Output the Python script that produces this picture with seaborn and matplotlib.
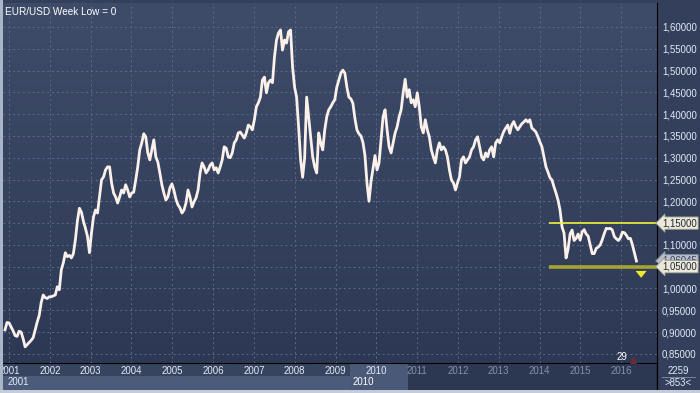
import numpy as np
import pandas as pd
import seaborn as sns
import matplotlib.pyplot as plt
import matplotlib.transforms as mtransforms
from matplotlib.colors import LinearSegmentedColormap
from matplotlib.patches import Rectangle

plt.rcParams['font.family'] = ['Liberation Sans', 'DejaVu Sans']

start_date = "2000-11-25"
prices = [
    0.905, 0.922, 0.921, 0.912, 0.903, 0.892, 0.890, 0.902, 0.900, 0.885,
    0.866, 0.871, 0.876, 0.881, 0.887, 0.905, 0.923, 0.938, 0.968, 0.985,
    0.979, 0.977, 0.981, 0.981, 0.983, 0.985, 1.004, 0.997, 1.043, 1.059,
    1.082, 1.073, 1.076, 1.070, 1.080, 1.112, 1.155, 1.184, 1.175, 1.154,
    1.138, 1.120, 1.082, 1.127, 1.164, 1.180, 1.173, 1.210, 1.249, 1.256,
    1.272, 1.279, 1.279, 1.242, 1.219, 1.210, 1.196, 1.210, 1.226, 1.219,
    1.238, 1.226, 1.210, 1.219, 1.221, 1.249, 1.279, 1.318, 1.334, 1.355,
    1.348, 1.311, 1.295, 1.318, 1.341, 1.302, 1.290, 1.265, 1.238, 1.219,
    1.203, 1.210, 1.231, 1.240, 1.225, 1.205, 1.192, 1.185, 1.173, 1.180,
    1.196, 1.226, 1.210, 1.187, 1.199, 1.208, 1.226, 1.265, 1.288, 1.279,
    1.265, 1.272, 1.283, 1.288, 1.272, 1.277, 1.265, 1.279, 1.295, 1.325,
    1.322, 1.302, 1.300, 1.311, 1.334, 1.341, 1.357, 1.359, 1.352, 1.345,
    1.357, 1.375, 1.371, 1.364, 1.387, 1.417, 1.426, 1.439, 1.478, 1.485,
    1.449, 1.472, 1.478, 1.472, 1.531, 1.570, 1.586, 1.593, 1.547, 1.570,
    1.563, 1.589, 1.593, 1.508, 1.462, 1.439, 1.371, 1.295, 1.255, 1.300,
    1.439, 1.394, 1.348, 1.302, 1.279, 1.265, 1.357, 1.334, 1.318, 1.364,
    1.394, 1.410, 1.417, 1.426, 1.433, 1.462, 1.478, 1.494, 1.501, 1.494,
    1.462, 1.439, 1.435, 1.425, 1.390, 1.364, 1.355, 1.350, 1.335, 1.305,
    1.242, 1.200, 1.245, 1.275, 1.305, 1.272, 1.288, 1.341, 1.394, 1.410,
    1.364, 1.325, 1.311, 1.334, 1.357, 1.371, 1.394, 1.410, 1.449, 1.480,
    1.439, 1.456, 1.426, 1.433, 1.417, 1.449, 1.417, 1.371, 1.357, 1.387,
    1.364, 1.348, 1.318, 1.302, 1.288, 1.318, 1.334, 1.318, 1.325, 1.318,
    1.302, 1.272, 1.249, 1.242, 1.226, 1.242, 1.256, 1.295, 1.302, 1.288,
    1.295, 1.302, 1.318, 1.325, 1.341, 1.348, 1.325, 1.302, 1.295, 1.311,
    1.302, 1.318, 1.325, 1.302, 1.334, 1.341, 1.334, 1.348, 1.360, 1.368,
    1.375, 1.356, 1.375, 1.383, 1.371, 1.364, 1.371, 1.378, 1.382, 1.387,
    1.382, 1.387, 1.368, 1.364, 1.359, 1.348, 1.336, 1.325, 1.302, 1.279,
    1.267, 1.254, 1.249, 1.233, 1.219, 1.203, 1.180, 1.141, 1.127, 1.070,
    1.090, 1.125, 1.134, 1.110, 1.115, 1.125, 1.111, 1.130, 1.135, 1.125,
    1.120, 1.100, 1.080, 1.080, 1.092, 1.095, 1.100, 1.112, 1.126, 1.138,
    1.137, 1.138, 1.134, 1.119, 1.114, 1.110, 1.116, 1.129, 1.128, 1.122,
    1.114, 1.115, 1.100, 1.081, 1.063,
]
dates = pd.date_range(start_date, periods=len(prices), freq="18D")

years = list(range(2001, 2017))
y_ticks = [0.85, 0.90, 0.95, 1.00, 1.05, 1.10, 1.15, 1.20, 1.25, 1.30,
           1.35, 1.40, 1.45, 1.50, 1.55, 1.60]

resistance = 1.15
support = 1.05
last_price = 1.06045
levels_from = "2014-03-27"
arrow_date = "2016-06-28"

# --- colours ---
BG_TOP = "#3f4c69"
BG_BOT = "#2d3954"
PANEL = "#34405b"
GRID = "#5b6a89"
TEXT = "#e2eaf6"
DIM = "#8592a8"
PRICE = "#fbf1ea"
FS = 6.9

fig = plt.figure(figsize=(7, 3.93), dpi=100)
fig.patch.set_facecolor(PANEL)

W, H = 700, 393
ax = fig.add_axes([3 / W, 30 / H, 654 / W, 360 / H])

# gradient background of the plot area
grad = np.linspace(0, 1, 256).reshape(-1, 1)
cmap = LinearSegmentedColormap.from_list("bg", [BG_TOP, BG_BOT])
ax.imshow(grad, cmap=cmap, extent=[0, 1, 0, 1], transform=ax.transAxes,
          aspect="auto", zorder=0)

sns.lineplot(x=dates, y=prices, ax=ax, color=PRICE, linewidth=2.0, zorder=3)

xmin, xmax = pd.Timestamp("2000-11-07"), pd.Timestamp("2016-11-17")
ax.set_xlim(xmin, xmax)
ax.set_ylim(0.829, 1.655)

# grid
year_dates = [pd.Timestamp(f"{y}-01-01") for y in years]
for d in year_dates:
    ax.axvline(d, color=GRID, lw=0.7, ls=(0, (2, 3)), zorder=1)
for v in y_ticks:
    ax.axhline(v, color=GRID, lw=0.7, ls=(0, (2, 3)), zorder=1)

# support / resistance
ax.hlines(resistance, pd.Timestamp(levels_from), xmax, color="#f4f03a", lw=1.2, zorder=4)
ax.hlines(support, pd.Timestamp(levels_from), xmax, color="#a6a431", lw=2.6, zorder=4)
ax.annotate("", xy=(pd.Timestamp(arrow_date), 1.018), xytext=(pd.Timestamp(arrow_date), 1.044),
            arrowprops=dict(arrowstyle="simple,head_width=0.8,head_length=0.5,tail_width=0.3",
                            color="#f2e82a", lw=0), zorder=5)

# axes styling
for s in ax.spines.values():
    s.set_visible(False)
ax.spines["right"].set_visible(True)
ax.spines["right"].set_color("black")
ax.spines["bottom"].set_visible(True)
ax.spines["bottom"].set_color("black")
ax.set_xlabel("")
ax.set_ylabel("")

ax.yaxis.tick_right()
ax.set_yticks(y_ticks)
ax.set_yticklabels([f"{v:.5f}".replace(".", ",") for v in y_ticks])
ax.tick_params(axis="y", length=0, pad=3.5, labelsize=FS, labelcolor=TEXT)

ax.set_xticks(year_dates)
ax.set_xticklabels([str(y) for y in years])
ax.tick_params(axis="x", length=0, pad=2, labelsize=FS)
for lab, y in zip(ax.get_xticklabels(), years):
    lab.set_color(TEXT if y <= 2010 else DIM)

# title
ax.text(0.003, 0.988, "EUR/USD Week Low = 0", transform=ax.transAxes,
        ha="left", va="top", color="white", fontsize=7.2, zorder=6)

# bar counter
ax.text(pd.Timestamp("2016-01-10"), 0.842, "29", color="white", fontsize=FS,
        ha="center", va="center", zorder=6)
ax.plot([pd.Timestamp("2016-04-20")], [0.836], marker="^", color="#6d2a3c",
        markersize=5, zorder=6)

# price tags on the right axis
blend = mtransforms.blended_transform_factory(ax.transAxes, ax.transData)
ax.text(1.008, last_price + 0.003, "1,06045", transform=blend, va="center", ha="left",
        fontsize=FS, color="#3a4560", clip_on=False, zorder=7,
        bbox=dict(boxstyle="larrow,pad=0.12", fc="#b8bfca", ec="#8a93a3", lw=0.6))
for lvl in (resistance, support):
    ax.text(1.008, lvl, f"{lvl:.5f}".replace(".", ","), transform=blend, va="center",
            ha="left", fontsize=FS, color="#20283a", clip_on=False, zorder=8,
            bbox=dict(boxstyle="larrow,pad=0.12", fc="#ebe8d8", ec="#a09f90", lw=0.6))

# bottom strips (time scroller)
fy = lambda py: 1 - py / H
fig.patches.extend([
    Rectangle((3 / W, fy(376)), 347 / W, 13 / H, transform=fig.transFigure,
              fc="#37445f", ec="none", zorder=-1),
    Rectangle((350 / W, fy(390)), 58 / W, 27 / H, transform=fig.transFigure,
              fc="#4b5978", ec="none", zorder=-1),
    Rectangle((3 / W, fy(390)), 347 / W, 14 / H, transform=fig.transFigure,
              fc="#4d5b7a", ec="none", zorder=-1),
    Rectangle((408 / W, fy(390)), 249 / W, 27 / H, transform=fig.transFigure,
              fc="#2c3852", ec="none", zorder=-1),
    Rectangle((0, 0), 3 / W, 1, transform=fig.transFigure,
              fc="#a9b6c9", ec="none", zorder=10),
    Rectangle((0, 0), 1, 3 / H, transform=fig.transFigure,
              fc="#c3ccd8", ec="none", zorder=10),
])
fig.add_artist(plt.Line2D([657 / W, 657 / W], [fy(393), fy(363)], color="black", lw=1))
fig.text(8 / W, fy(382), "2001", color=TEXT, fontsize=FS, va="center", ha="left")
fig.text(353 / W, fy(382), "2010", color="white", fontsize=FS, va="center", ha="left")
fig.text(678 / W, fy(371), "2259", color=TEXT, fontsize=FS, va="center", ha="center")
fig.text(678 / W, fy(382.5), ">853<", color=TEXT, fontsize=FS, va="center", ha="center")
fig.add_artist(plt.Line2D([662 / W, 695 / W], [fy(377), fy(377)], color="#8592a8", lw=0.6))

fig.savefig("out.png", dpi=100, facecolor=fig.get_facecolor())
